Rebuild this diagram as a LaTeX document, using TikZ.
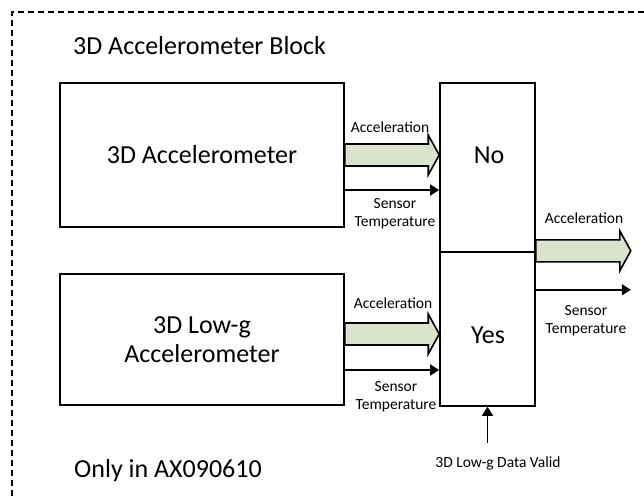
\documentclass[tikz,border=0pt]{standalone}
\usepackage{fontspec}
\setmainfont{Carlito}
\usetikzlibrary{arrows.meta,positioning,calc}
\definecolor{AccFill}{HTML}{DCE3CD}
\tikzset{
  blockbox/.style={draw=black,line width=1.6pt,fill=white,inner sep=0pt,align=center,font=\fontsize{26}{29}\selectfont},
  bigtxt/.style={font=\fontsize{26}{29}\selectfont,inner sep=0pt},
  lbl/.style={font=\fontsize{15.5}{18}\selectfont,align=center,inner sep=0pt},
  thinarr/.style={-{Triangle[length=9pt,width=11pt]},line width=1.6pt},
  fatarr/.style={draw=black,line width=1.6pt,fill=AccFill,line join=miter,
    to path={let \p1=(\tikztostart),\p2=(\tikztotarget) in
      (\x1,\y1+11pt) -- (\x2-11pt,\y1+11pt) -- (\x2-11pt,\y1+20pt) -- (\x2,\y1)
      -- (\x2-11pt,\y1-20pt) -- (\x2-11pt,\y1-11pt) -- (\x1,\y1-11pt) -- cycle}}
}

\begin{document}
\begin{tikzpicture}[x=1pt,y=-1pt]
  \useasboundingbox (0,0) rectangle (644,498);
  % outer block frame
  \draw[dash pattern=on 6pt off 4pt,line width=1.3pt] (644,12) -- (12,12) -- (12,498);
  \node[bigtxt,anchor=base west] (title) at (73,54) {3D Accelerometer Block};
  \node[bigtxt,anchor=base west] (only) at (74,477) {Only in AX090610};
  % sensors
  \node[blockbox,minimum width=284pt,minimum height=144pt] (acc) at (202,155) {3D Accelerometer};
  \node[blockbox,minimum width=284pt,minimum height=131pt] (lowg) at (202,339.5) {3D Low-g\\Accelerometer};
  % switch
  \node[blockbox,minimum width=95pt,minimum height=169pt] (no) at (487.5,167.5) {};
  \node[blockbox,minimum width=95pt,minimum height=154pt,below=-1.6pt of no] (yes) {};
  \node[bigtxt,anchor=base] (noTxt) at (489,163) {No};
  \node[bigtxt,anchor=base] (yesTxt) at (488,343) {Yes};
  % inputs
  \draw[fatarr] (acc.east) to (acc.east -| no.west);
  \draw[thinarr] ([yshift=-35pt]acc.east) -- ([yshift=-35pt]acc.east -| no.west);
  \draw[fatarr] ([yshift=5.5pt]lowg.east) to ([yshift=5.5pt]lowg.east -| yes.west);
  \draw[thinarr] ([yshift=-30.5pt]lowg.east) -- ([yshift=-30.5pt]lowg.east -| yes.west);
  \node[lbl,anchor=base] (accA) at (390,132) {Acceleration};
  \node[lbl,anchor=base] (accT) at (395,226) {Sensor\\Temperature};
  \node[lbl,anchor=base] (lowA) at (393,308) {Acceleration};
  \node[lbl,anchor=base] (lowT) at (396,409) {Sensor\\Temperature};
  % outputs
  \coordinate (outA) at ([xshift=95pt,yshift=2pt]no.south east);
  \coordinate (outT) at ([xshift=95pt,yshift=-37pt]no.south east);
  \draw[fatarr] ([yshift=2pt]no.south east) to (outA);
  \draw[thinarr] ([yshift=-37pt]no.south east) -- (outT);
  \node[lbl,anchor=base] (outAl) at (584,223) {Acceleration};
  \node[lbl,anchor=base] (outTl) at (586,333) {Sensor\\Temperature};
  % select line
  \coordinate (vin) at ([yshift=-36pt]yes.south);
  \draw[thinarr] (vin) -- (yes.south);
  \node[lbl,anchor=base] (valid) at (498,467) {3D Low-g Data Valid};
\end{tikzpicture}
\end{document}
